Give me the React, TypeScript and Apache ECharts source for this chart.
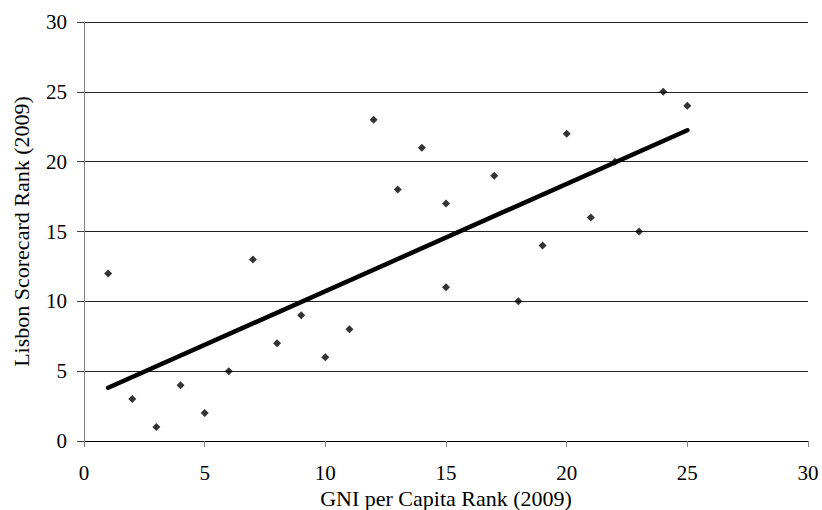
import React, { useEffect, useRef } from "react";
import * as echarts from "echarts";

const gniRank: number[] = [1, 2, 3, 4, 5, 6, 7, 8, 9, 10, 11, 12, 13, 14, 15, 15, 17, 18, 19, 20, 21, 22, 23, 24, 25];
const lisbonRank: number[] = [12, 3, 1, 4, 2, 5, 13, 7, 9, 6, 8, 23, 18, 21, 17, 11, 19, 10, 14, 22, 16, 20, 15, 25, 24];
const xTitle = "GNI per Capita Rank (2009)";
const yTitle = "Lisbon Scorecard Rank (2009)";

function linearFit(xs: number[], ys: number[]) {
  const n = xs.length;
  const mx = xs.reduce((a, b) => a + b, 0) / n;
  const my = ys.reduce((a, b) => a + b, 0) / n;
  let sxy = 0, sxx = 0;
  for (let i = 0; i < n; i++) {
    sxy += (xs[i] - mx) * (ys[i] - my);
    sxx += (xs[i] - mx) * (xs[i] - mx);
  }
  const slope = sxy / sxx;
  return { slope, intercept: my - slope * mx };
}

export default function App() {
  const ref = useRef<HTMLDivElement>(null);
  useEffect(() => {
    document.body.style.margin = "0";
    const chart = echarts.init(ref.current!, null, { renderer: "svg" });
    const fit = linearFit(gniRank, lisbonRank);
    const xMin = Math.min(...gniRank);
    const xMax = Math.max(...gniRank);
    const font = "Liberation Serif";
    chart.setOption({
      animation: false,
      backgroundColor: "#ffffff",
      textStyle: { fontFamily: font, color: "#000" },
      grid: { left: 84, right: 14, top: 22, bottom: 69, containLabel: false, outerBoundsMode: "none" },
      xAxis: {
        type: "value",
        min: 0,
        max: 30,
        interval: 5,
        name: xTitle,
        nameLocation: "middle",
        nameGap: 40,
        nameTextStyle: { fontFamily: font, fontSize: 22, color: "#000", lineHeight: 22 },
        axisLine: { show: true, onZero: false, lineStyle: { color: "#000", width: 1 } },
        axisTick: { show: true, inside: false, length: 6, lineStyle: { color: "#808080" } },
        axisLabel: { fontFamily: font, fontSize: 21, color: "#000", margin: 21 },
        splitLine: { show: false },
      },
      yAxis: {
        type: "value",
        min: 0,
        max: 30,
        interval: 5,
        name: yTitle,
        nameLocation: "middle",
        nameGap: 52,
        nameRotate: 90,
        nameTextStyle: { fontFamily: font, fontSize: 22, color: "#000" },
        axisLine: { show: true, lineStyle: { color: "#808080", width: 1 } },
        axisTick: { show: true, inside: false, length: 7, lineStyle: { color: "#404040" } },
        axisLabel: { fontFamily: font, fontSize: 21, color: "#000", margin: 17 },
        splitLine: { show: true, lineStyle: { color: "#222", width: 1 } },
      },
      series: [
        {
          type: "line",
          data: [
            [xMin, fit.intercept + fit.slope * xMin],
            [xMax, fit.intercept + fit.slope * xMax],
          ],
          showSymbol: false,
          symbol: "none",
          lineStyle: { color: "#000", width: 4.5, cap: "round" },
          z: 2,
        },
        {
          type: "scatter",
          data: gniRank.map((x, i) => [x, lisbonRank[i]]),
          symbol: "diamond",
          symbolSize: 8,
          itemStyle: { color: "#000" },
          z: 3,
        },
      ],
    });
    return () => chart.dispose();
  }, []);
  return <div ref={ref} style={{ width: 822, height: 510 }} />;
}
